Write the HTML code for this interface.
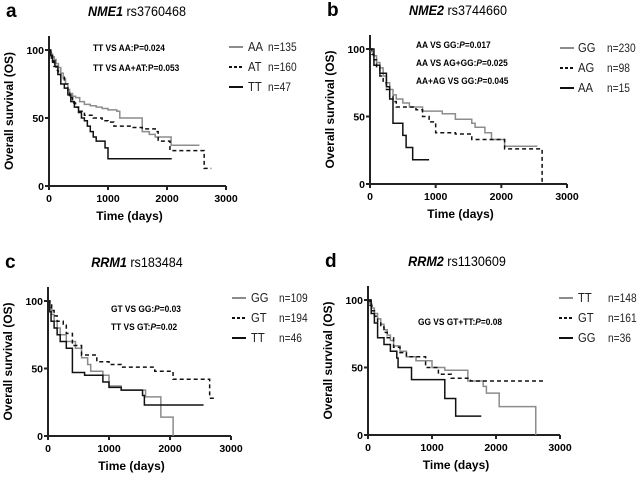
<!DOCTYPE html>
<html><head><meta charset="utf-8"><style>
body{margin:0;background:#fff;width:638px;height:475px;overflow:hidden;font-family:"Liberation Sans",Arial,sans-serif}
svg text{font-family:"Liberation Sans",Arial,sans-serif}
</style></head><body>
<svg id="fig" width="638" height="475" viewBox="0 0 638 475"></svg>
<script>
// Panel a: NME1 rs3760468
const aAA_t=[0,20,40,60,90,120,160,200,240,280,320,350,400,450,520,600,700,800,900,1000,1150,1200,1570,1580,1700,1800,2060,2070,2550];
const aAA_s=[100,99,97,95,93,90,87,83,79,75,71,68,66,65,62,60,59,58,57,56,55,50,50,40,38,36,36,30,30];
const aAT_t=[0,20,40,60,80,120,160,200,260,320,350,400,450,500,600,750,900,1000,1100,1400,1580,1800,1850,2050,2620,2630,2750];
const aAT_s=[100,97,94,91,88,85,82,80,75,69,65,61,58,55,52,50,48,47,44,43,42,40,33,26,26,13,13];
const aTT_t=[0,30,60,100,150,200,260,320,370,430,500,550,600,650,700,750,800,950,1000,2080];
const aTT_s=[100,96,92,88,82,75,72,67,62,58,54,50,48,44,40,36,33,28,20,20];
// Panel b: NME2 rs3744660
const bGG_t=[0,20,50,100,150,200,250,300,350,400,500,600,800,1100,1300,1550,1600,1750,1850,2050,2550];
const bGG_s=[100,98,95,90,86,80,75,70,66,63,60,57,54,52,48,45,42,38,33,28,28];
const bAG_t=[0,30,60,100,150,200,250,300,350,400,700,800,900,1000,1300,1550,2050,2620,2621];
const bAG_s=[100,96,92,86,80,75,70,65,61,57,55,50,46,38,37,33,26,26,0];
const bAA_t=[0,60,150,250,300,350,500,550,650,900];
const bAA_s=[100,88,82,72,63,45,36,27,18,18];
// Panel c: RRM1 rs183484
const cGG_t=[0,30,60,100,150,200,300,450,550,650,700,900,1000,1200,1600,1850,2050,2051];
const cGG_s=[100,95,90,85,80,75,70,65,58,53,48,45,37,34,29,14,14,0];
const cGT_t=[0,30,60,100,150,250,300,400,550,800,1000,1200,1750,2050,2650,2750];
const cGT_s=[100,97,93,89,85,82,76,67,60,55,53,51,48,42,28,28];
const cTT_t=[0,30,50,100,150,200,300,400,600,900,1000,1200,1550,1580,2550];
const cTT_s=[100,92,85,80,75,70,65,47,45,40,36,34,30,23,23];
// Panel d: RRM2 rs1130609
const dTT_t=[0,30,60,100,150,200,250,300,350,400,500,600,750,1000,1200,1560,1800,1850,2050,2620,2621];
const dTT_s=[100,97,94,90,86,82,78,74,70,66,62,58,55,50,48,40,36,31,21,21,0];
const dGT_t=[0,30,60,100,150,200,250,300,400,500,600,900,1100,1300,1600,2750];
const dGT_s=[100,96,92,88,84,80,76,72,65,61,58,50,45,42,40,40];
const dGG_t=[0,50,100,150,250,350,450,470,680,1200,1370,1770];
const dGG_s=[100,90,83,72,67,62,57,50,41,27,14,14];
const xTicks=[0,1000,2000,3000];
const yTicks=[0,50,100];

const NS="http://www.w3.org/2000/svg";
const svg=document.getElementById('fig');
function el(tag,attrs,parent,txt){const e=document.createElementNS(NS,tag);for(const k in attrs)e.setAttribute(k,attrs[k]);if(txt!==undefined)e.textContent=txt;(parent||svg).appendChild(e);return e;}
function sx(x,k){return `translate(${x},0) scale(${k},1) translate(${-x},0)`;}

const styles={gray:{stroke:'#8c8c8c',dash:''},dash:{stroke:'#111',dash:'4,3'},black:{stroke:'#111',dash:''}};

function panel(p){
  const g=el('g',{},svg);
  
  
  const X=v=>p.x0+(v/3000)*(p.x3-p.x0);
  const Y=v=>p.y0-(v/100)*(p.y0-p.y100);
  let t=el('text',{x:p.x0-43,y:p.y100-33,'font-size':19,'font-weight':'bold'},g,p.id);
  
  t=el('text',{x:p.tx,y:p.y100-34,'font-size':14,'text-anchor':'middle',transform:sx(p.tx,0.9)},g);
  
  el('tspan',{'font-style':'italic','font-weight':'bold'},t,p.gene);
  el('tspan',{},t,' '+p.snp);
  const ax=el('path',{d:`M${p.x0},${p.y100-14}V${p.y0}H${X(3000)}`,stroke:'#222','stroke-width':2,fill:'none'},g);
  
  xTicks.forEach(v=>{el('line',{x1:X(v),x2:X(v),y1:p.y0,y2:p.y0+4,stroke:'#222','stroke-width':2},g);
    const l=el('text',{x:X(v),y:p.y0+16,'font-size':10.5,'font-weight':'bold','text-anchor':'middle'},g,v);
    });
  yTicks.forEach(v=>{el('line',{x1:p.x0-4,x2:p.x0,y1:Y(v),y2:Y(v),stroke:'#222','stroke-width':2},g);
    const l=el('text',{x:p.x0-5,y:Y(v)+4,'font-size':10.5,'font-weight':'bold','text-anchor':'end'},g,v);
    });
  t=el('text',{x:(p.x0+X(3000))/2-8,y:p.y0+34,'font-size':12,'font-weight':'bold','text-anchor':'middle'},g,'Time (days)');
  
  const ym=(p.y0+p.y100-14)/2;
  t=el('text',{x:0,y:0,'font-size':12,'font-weight':'bold','text-anchor':'middle',transform:`translate(${p.x0-36},${ym}) rotate(-90)`},g,'Overall survival (OS)');
  
  p.series.forEach(s=>{
    let d=`M${X(s.t[0])},${Y(s.s[0])}`;
    for(let i=1;i<s.t.length;i++){d+=`H${X(s.t[i])}V${Y(s.s[i])}`;}
    const st=styles[s.style];
    const c=el('path',{d:d,stroke:st.stroke,'stroke-width':1.5,fill:'none','stroke-dasharray':st.dash},g);
    
  });
  p.notes.forEach((n,i)=>{
    const a=el('text',{x:p.nx,y:p.ny+i*p.ns,'font-size':9.5,'font-weight':'bold',transform:sx(p.nx,0.88)},g);
    
    el('tspan',{},a,n[0]);el('tspan',{'font-style':p.italicP?'italic':'normal'},a,'P');el('tspan',{},a,n[1]);
  });
  p.series.forEach((s,i)=>{
    const ly=p.ly+i*20;const st=styles[s.style];
    const lg=el('g',{},g);
    
    el('line',{x1:p.lx,x2:p.lx+14,y1:ly,y2:ly,stroke:st.stroke,'stroke-width':2,'stroke-dasharray':st.dash?'3,2':''},lg);
    el('text',{x:p.lx+p.lo,y:ly+4,'font-size':12.5,fill:'#222',transform:sx(p.lx+p.lo,0.9)},lg,s.name);
    el('text',{x:p.lx+p.no,y:ly+4,'font-size':12,fill:'#222',transform:sx(p.lx+p.no,0.85)},lg,'n='+s.n);
  });
}

panel({id:'a',gene:'NME1',snp:'rs3760468',tx:137,x0:49,x3:226,y0:186,y100:50,nx:93,ny:51,ns:20,italicP:false,
  notes:[['TT VS AA:','=0.024'],['TT VS AA+AT:','=0.053']],lx:229,ly:47,lo:19,no:39,
  series:[{name:'AA',n:135,style:'gray',t:aAA_t,s:aAA_s},{name:'AT',n:160,style:'dash',t:aAT_t,s:aAT_s},{name:'TT',n:47,style:'black',t:aTT_t,s:aTT_s}]});
panel({id:'b',gene:'NME2',snp:'rs3744660',tx:458,x0:370,x3:567,y0:184,y100:49,nx:416,ny:48,ns:18,italicP:true,
  notes:[['AA VS GG:','=0.017'],['AA VS AG+GG:','=0.025'],['AA+AG VS GG:','=0.045']],lx:560,ly:48,lo:18,no:47,
  series:[{name:'GG',n:230,style:'gray',t:bGG_t,s:bGG_s},{name:'AG',n:98,style:'dash',t:bAG_t,s:bAG_s},{name:'AA',n:15,style:'black',t:bAA_t,s:bAA_s}]});
panel({id:'c',gene:'RRM1',snp:'rs183484',tx:137,x0:48,x3:231,y0:436,y100:301,nx:111,ny:312,ns:18,italicP:true,
  notes:[['GT VS GG:','=0.03'],['TT VS GT:','=0.02']],lx:232,ly:298,lo:19,no:47,
  series:[{name:'GG',n:109,style:'gray',t:cGG_t,s:cGG_s},{name:'GT',n:194,style:'dash',t:cGT_t,s:cGT_s},{name:'TT',n:46,style:'black',t:cTT_t,s:cTT_s}]});
panel({id:'d',gene:'RRM2',snp:'rs1130609',tx:457,x0:368,x3:560,y0:435,y100:300,nx:418,ny:325,ns:18,italicP:true,
  notes:[['GG VS GT+TT:','=0.08']],lx:559,ly:298,lo:19,no:49,
  series:[{name:'TT',n:148,style:'gray',t:dTT_t,s:dTT_s},{name:'GT',n:161,style:'dash',t:dGT_t,s:dGT_s},{name:'GG',n:36,style:'black',t:dGG_t,s:dGG_s}]});
</script>
</body></html>
